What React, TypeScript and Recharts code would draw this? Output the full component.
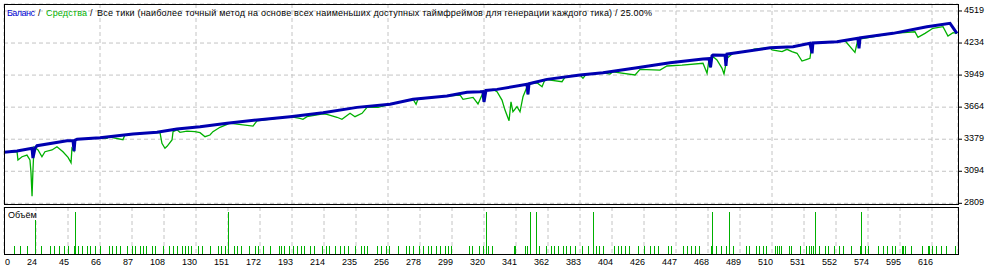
import { Bar, CartesianGrid, ComposedChart, Line, LineChart, XAxis, YAxis } from "recharts";

const FONT = "'Liberation Sans', Arial, sans-serif";
const GRID = "#c4c4c4";
const BALANCE = "#0000b0";
const EQUITY = "#00b000";

// x labels under the grid lines (trade number)
const xTickLabels = [
  "0", "24", "45", "66", "87", "108", "130", "151", "172", "193", "214", "235", "256", "278", "299",
  "320", "341", "362", "383", "404", "426", "447", "468", "489", "510", "531", "552", "574", "595", "616",
];
const yTicks = [2809, 3094, 3379, 3664, 3949, 4234, 4519];

// [x, value] — x in chart units (one grid cell = 64/3)
const balancePts: [number, number][] = [
  [0, 3262], [8.7, 3274], [18.7, 3298], [19.3, 3212], [20.7, 3300], [22, 3321], [42, 3366], [46, 3368],
  [46.7, 3274], [47.3, 3370], [48.7, 3378], [64, 3392], [86, 3425], [102, 3440], [115.3, 3470],
  [130.7, 3490], [148.7, 3520], [168.7, 3550], [190.7, 3579], [212.7, 3614], [235.3, 3662],
  [257.3, 3689], [272.7, 3734], [295.3, 3763], [308.7, 3796], [317.3, 3801], [319.3, 3803],
  [320, 3710], [321.3, 3812], [328.7, 3822], [348.7, 3867], [349.3, 3778], [350, 3872], [352.7, 3881],
  [362, 3911], [384, 3950], [399.3, 3970], [422, 4014], [444, 4059], [466, 4092], [470, 4095],
  [471, 4018], [472, 4120], [472.7, 4127], [480.7, 4125], [481.3, 4030], [482, 4135], [486, 4143],
  [510.7, 4192], [526, 4201], [537.3, 4231], [538.7, 4143], [539.3, 4235], [555.3, 4246],
  [569.3, 4276], [570, 4187], [570.7, 4280], [592.7, 4320], [615.3, 4379], [630.7, 4409], [635.3, 4320],
];

const equityPts: [number, number][] = [
  [0, 3262], [8.7, 3268], [9.3, 3194], [12, 3223], [15.3, 3238], [17.3, 3194], [18, 3081], [18.7, 2873],
  [19.3, 3100], [20, 3309], [22.7, 3283], [25.3, 3223], [27.3, 3268], [32, 3283], [35.3, 3312],
  [39.3, 3268], [42.7, 3218], [44.7, 3170], [45.3, 3298], [46.7, 3274], [47.3, 3370], [48.7, 3378],
  [64, 3392], [68.7, 3387], [70, 3400], [79.3, 3375], [80.5, 3415], [86, 3425], [102, 3440],
  [104, 3438], [105.3, 3342], [107.3, 3298], [108.7, 3316], [112, 3372], [112.7, 3446], [115.3, 3462],
  [117.3, 3440], [122, 3451], [127.3, 3446], [130.7, 3437], [134, 3401], [137.3, 3416], [139.3, 3446],
  [144, 3485], [148.7, 3510], [150, 3522], [166, 3496], [168.7, 3543], [190.7, 3579], [197.3, 3565],
  [199.3, 3556], [202, 3579], [212.7, 3605], [215.3, 3600], [222, 3574], [225.3, 3556], [230.7, 3609],
  [234, 3579], [238.7, 3609], [242, 3662], [249.3, 3662], [257.3, 3689], [272.7, 3734], [274.7, 3689],
  [276, 3736], [295.3, 3763], [304, 3772], [306, 3734], [312.7, 3751], [316, 3692], [318.7, 3772],
  [320, 3710], [321.3, 3812], [326, 3822], [328.7, 3801], [332, 3727], [334, 3638], [336.7, 3543],
  [338, 3712], [339.3, 3623], [342, 3668], [344, 3623], [346, 3757], [348.7, 3846], [349.3, 3778],
  [350, 3872], [355.3, 3881], [358.7, 3846], [360.7, 3911], [372, 3890], [374, 3931], [384, 3950],
  [386, 3920], [388, 3955], [399.3, 3970], [404, 3958], [406, 3978], [420.7, 3950], [424, 4000],
  [437.3, 3994], [442, 4030], [452, 4038], [466, 4054], [468.7, 3965], [470, 4089], [471, 4018],
  [472, 4120], [475.3, 4083], [478.7, 4009], [480, 3959], [482, 4098], [486, 4143], [498.7, 4166],
  [500, 4180], [510.7, 4192], [512, 4172], [518.7, 4157], [522, 4178], [525.3, 4157], [528.7, 4143],
  [532, 4074], [535.3, 4089], [537.3, 4098], [538.7, 4231], [555.3, 4246], [560.7, 4254],
  [567.3, 4151], [569.3, 4267], [592.7, 4320], [607.3, 4334], [609.3, 4285], [614, 4320],
  [619.3, 4365], [626, 4379], [629.3, 4296], [632.7, 4326], [635.3, 4320],
];

// trade positions by lot size
const smallTrades = [
  6.9, 11.3, 15.6, 20.9, 24.9, 30.9, 33.6, 36.9, 40.2, 43.1, 46.7, 49.8, 52.4, 55.6, 58, 60.7, 64.4,
  70.4, 72.4, 75.1, 78, 82.4, 85.6, 87.8, 90.7, 93.3, 95.1, 99.1, 100.9, 106.2, 110.2, 113.1, 115.8,
  118.7, 120.7, 123.3, 125.3, 130, 132.2, 137.6, 142.7, 144.9, 147.6, 153.6, 155.6, 158.2, 163.8, 168,
  169.8, 173.1, 177.6, 183.6, 184.9, 186.9, 190.2, 192.9, 195.8, 198.2, 200.4, 204.4, 206.9, 212.2,
  215.1, 216.9, 220.9, 224.4, 227.1, 229.6, 234.2, 238.2, 240.4, 242.4, 249.3, 252, 254.9, 256.7,
  262.9, 268.4, 270.2, 272.9, 277.3, 280, 282.7, 285.1, 288.2, 291.3, 294.2, 296.4, 298.4, 310.2,
  312.4, 317.3, 319.6, 323.3, 325.8, 340.2, 341.3, 348, 349.3, 356.9, 361.8, 365.1, 367.3, 369.8,
  372.9, 375.1, 377.8, 381.1, 385.8, 389.6, 395.1, 396.9, 399.6, 407.1, 409.8, 412, 414.4, 416.9,
  423.1, 427.1, 430.7, 434, 436.4, 442.7, 444.7, 452.9, 455.8, 458.4, 460.9, 463.6, 471.6, 474.7,
  478.2, 481.8, 486.2, 494.7, 497.3, 501.8, 504, 506.2, 508.4, 514.2, 515.6, 516.9, 518.4, 523.6,
  525.3, 531.3, 534.7, 536.9, 538.4, 540, 544, 547.8, 549.8, 553.6, 557.3, 559.6, 564.9, 571.1,
  574.2, 576.4, 583.1, 586.2, 589.1, 592.4, 594.2, 598.7, 600, 601.3, 605.3, 612.4, 616.2, 617.3,
  619.1, 621.8, 624.7, 628.2, 634.2,
];
const mediumTrades = [21.3];
const bigTrades = [47.6, 149.6, 321.8, 351.1, 354.9, 392.9, 472.2, 483.6, 540.9, 571.6];
const SMALL_LOT = 0.1;
const MEDIUM_LOT = 0.4;
const BIG_LOT = 0.5;

const X_MAX = 636;
const xTicks = xTickLabels.map((_, i) => (i * 64) / 3);

const balance = balancePts.map(([x, v]) => ({ x, v }));
const equity = equityPts.map(([x, v]) => ({ x, v }));
const volume = [
  ...smallTrades.map((x) => ({ x, lots: SMALL_LOT })),
  ...mediumTrades.map((x) => ({ x, lots: MEDIUM_LOT })),
  ...bigTrades.map((x) => ({ x, lots: BIG_LOT })),
].sort((a, b) => a.x - b.x);

const YTick = (p: any) => (
  <text x={p.x} y={p.y + 2} fontSize={9} fontFamily={FONT} fill="#000" textAnchor="start">
    {p.payload.value}
  </text>
);

const XTick = (p: any) => {
  const i = Math.round((p.payload.value * 3) / 64);
  return (
    <text
      x={p.x + 1}
      y={p.y + 11}
      fontSize={9}
      fontFamily={FONT}
      fill="#000"
      textAnchor={i === 0 ? "start" : "end"}
    >
      {xTickLabels[i]}
    </text>
  );
};

// 1px solid stick, snapped to the pixel grid like the terminal draws it
const VolStick = (p: any) => {
  const cx = Math.floor(p.x + p.width / 2);
  return <rect x={cx} y={Math.round(p.y)} width={1} height={Math.round(p.height)} fill={EQUITY} shapeRendering="crispEdges" />;
};

const frame = (top: number, height: number): React.CSSProperties => ({
  position: "absolute",
  left: 4,
  top,
  width: 955,
  height,
  border: "1px solid #000",
  boxSizing: "border-box",
  pointerEvents: "none",
});

export default function App() {
  return (
    <div
      style={{
        position: "absolute",
        left: 0,
        top: 0,
        width: 1004,
        height: 271,
        background: "#fff",
        overflow: "hidden",
      }}
    >
      <div style={{ position: "absolute", left: 0, top: 0 }}>
        <LineChart width={1004} height={206} margin={{ top: 4, right: 0, bottom: 2, left: 4 }}>
          <CartesianGrid stroke={GRID} strokeDasharray="4 3" />
          <XAxis type="number" dataKey="x" domain={[0, X_MAX]} ticks={xTicks} hide allowDataOverflow />
          <YAxis
            orientation="right"
            width={46}
            type="number"
            domain={[2803, 4581]}
            ticks={yTicks}
            interval={0}
            axisLine={false}
            tickSize={4}
            tickMargin={2}
            tickLine={{ stroke: "#000" }}
            tick={<YTick />}
            allowDataOverflow
          />
          <Line
            data={equity}
            dataKey="v"
            type="linear"
            stroke={EQUITY}
            strokeWidth={1.3}
            dot={false}
            isAnimationActive={false}
          />
          <Line
            data={balance}
            dataKey="v"
            type="linear"
            stroke={BALANCE}
            strokeWidth={3}
            strokeLinejoin="miter"
            dot={false}
            isAnimationActive={false}
          />
        </LineChart>
      </div>
      <div style={{ position: "absolute", left: 0, top: 206 }}>
        <ComposedChart width={1004} height={65} data={volume} margin={{ top: 1, right: 46, bottom: 0, left: 4 }}>
          <CartesianGrid horizontal={false} stroke={GRID} strokeDasharray="4 3" />
          <XAxis
            type="number"
            dataKey="x"
            domain={[0, X_MAX]}
            ticks={xTicks}
            interval={0}
            height={17}
            axisLine={false}
            tickLine={false}
            tickSize={0}
            tickMargin={0}
            tick={<XTick />}
            allowDataOverflow
          />
          <YAxis hide type="number" domain={[0, 0.56]} />
          <Bar dataKey="lots" fill={EQUITY} barSize={1} shape={<VolStick />} isAnimationActive={false} />
        </ComposedChart>
      </div>
      <div style={frame(4, 201)} />
      <div style={frame(207, 48)} />
      <svg
        width={1004}
        height={271}
        style={{ position: "absolute", left: 0, top: 0, pointerEvents: "none" }}
        fontFamily={FONT}
        fontSize={9}
      >
        <text x={7} y={16} fill="#0000d0" textLength={28}>
          Баланс
        </text>
        <text x={38} y={16} fill="#000">
          /
        </text>
        <text x={46} y={16} fill="#00b000" textLength={41}>
          Средства
        </text>
        <text x={90} y={16} fill="#000">
          /
        </text>
        <text x={97} y={16} fill="#000" textLength={555}>
          Все тики (наиболее точный метод на основе всех наименьших доступных таймфреймов для генерации каждого тика) / 25.00%
        </text>
        <text x={8} y={218} fill="#000">
          Объём
        </text>
      </svg>
    </div>
  );
}
